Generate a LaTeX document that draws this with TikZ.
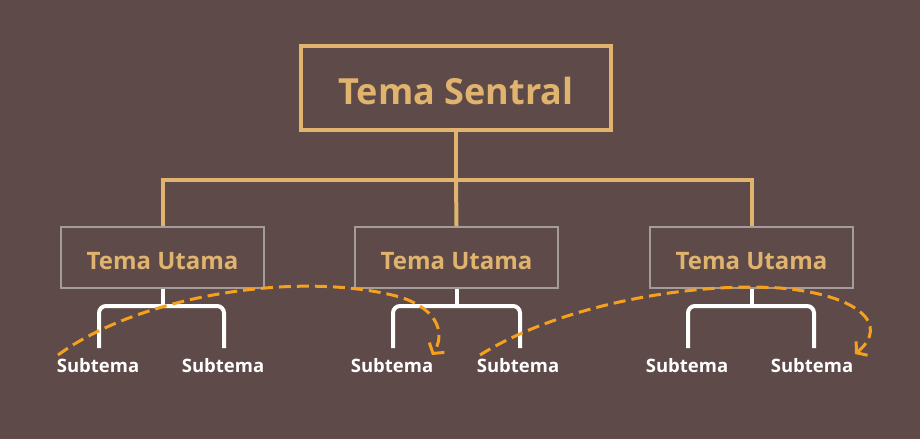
\documentclass[tikz,border=0pt]{standalone}
\usepackage{fontspec}
\setmainfont{Open Sans}
\usetikzlibrary{arrows.meta}
\definecolor{bg}{HTML}{5E4A48}
\definecolor{gold}{HTML}{E0B46E}
\definecolor{graybd}{HTML}{A39C9A}
\definecolor{orng}{HTML}{F5A11E}
\begin{document}
\begin{tikzpicture}[x=1pt,y=-1pt,
  central/.style={draw=gold,line width=4pt,minimum width=310pt,minimum height=84pt,text=gold,font=\fontsize{36}{40}\selectfont\bfseries,inner sep=0pt,text height=33pt,text depth=0pt},
  mainbox/.style={draw=graybd,line width=1.5pt,minimum width=203pt,minimum height=61pt,text=gold,font=\fontsize{24}{27}\selectfont\bfseries,inner sep=0pt,text height=23pt,text depth=0pt},
  sublbl/.style={text=white,font=\fontsize{18.5}{21}\selectfont\bfseries,inner sep=0pt},
  goldline/.style={draw=gold,line width=4pt},
  bracket/.style={draw=white,line width=4pt,rounded corners=7pt},
  flow/.style={draw=orng,line width=3pt,dash pattern=on 12pt off 6pt,-{Straight Barb[length=7pt,width=18pt,line width=3pt]}}]
\fill[bg] (0,0) rectangle (920,439);
\useasboundingbox (0,0) rectangle (920,439);
\node[central] (c) at (456,88) {Tema Sentral};
\node[mainbox] (m1) at (162.5,257.5) {Tema Utama};
\node[mainbox] (m2) at (456.5,257.5) {Tema Utama};
\node[mainbox] (m3) at (751.5,257.5) {Tema Utama};
\coordinate (j) at (456,180);
\draw[goldline] (c.south) -- (j);
\draw[goldline] (m1.north) -- (m1.north |- j) -- (m3.north |- j) -- (m3.north);
\draw[goldline] (j) -- (m2.north);
\node[sublbl] (s1) at (98,366) {Subtema};
\node[sublbl] (s2) at (223,366) {Subtema};
\node[sublbl] (s3) at (392,366) {Subtema};
\node[sublbl] (s4) at (518,366) {Subtema};
\node[sublbl] (s5) at (687,366) {Subtema};
\node[sublbl] (s6) at (812,366) {Subtema};
\foreach \m/\la/\lb in {m1/99/224, m2/393/520, m3/688/814}{
  \draw[draw=white,line width=4pt] (\m.south) -- ++(0,18);
  \draw[bracket] (\la,348) -- (\la,306) -- (\lb,306) -- (\lb,348);
}
\coordinate (f1s) at (58,355);
\coordinate (f1e) at (432,355);
\coordinate (f2s) at (480,355);
\coordinate (f2e) at (855,354);
\draw[flow] (f1s) .. controls (140,295) and (300,270) .. (400,297) .. controls (440,310) and (445,335) .. (f1e);
\draw[flow] (f2s) .. controls (560,305) and (690,282) .. (780,288) .. controls (860,295) and (890,325) .. (f2e);
\end{tikzpicture}
\end{document}
